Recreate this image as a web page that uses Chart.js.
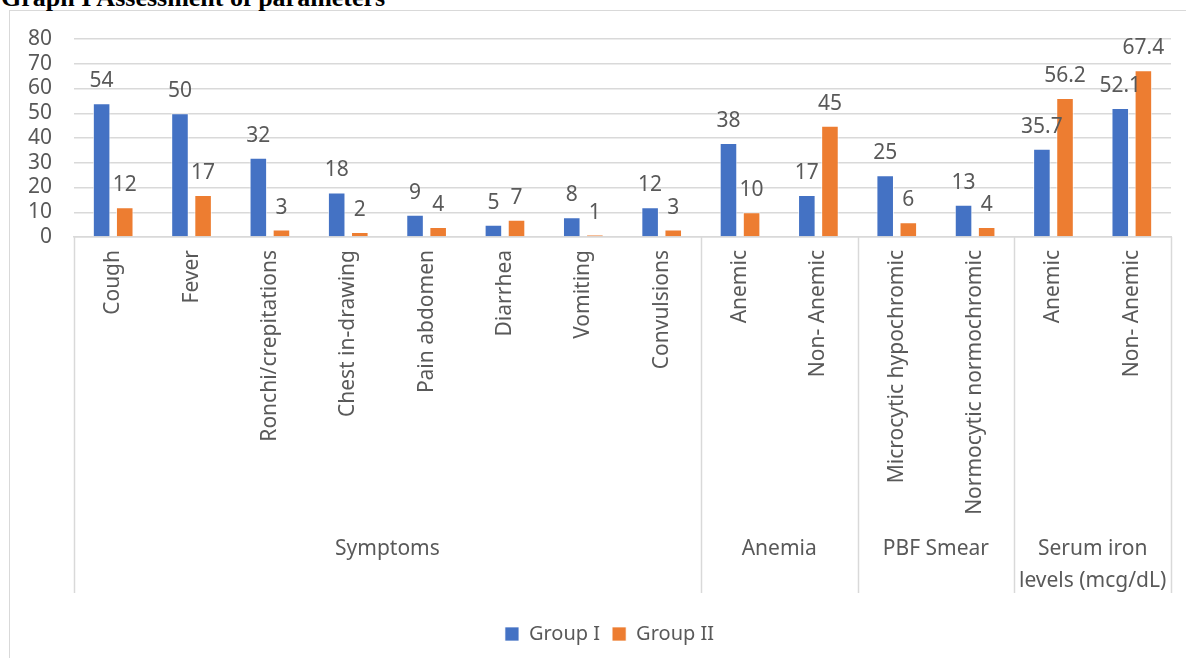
<!DOCTYPE html>
<html>
<head>
<meta charset="utf-8">
<title>Graph I Assessment of parameters</title>
<script src="https://cdn.jsdelivr.net/npm/chart.js@4.4.1/dist/chart.umd.min.js"></script>
<style>
  html, body { margin: 0; padding: 0; background: #ffffff; overflow: hidden; }
  #wrap { position: relative; width: 1186px; height: 658px; overflow: hidden; }
  #frame {
    position: absolute; left: 9px; top: 10px; width: 1300px; height: 800px;
    border: 1.5px solid #d9d9d9; box-sizing: border-box;
  }
  #title {
    position: absolute; left: 1px; top: -15px; margin: 0;
    font-family: "Liberation Serif", "Times New Roman", serif;
    font-weight: bold; font-size: 26px; line-height: 26px; color: #000;
    white-space: nowrap;
  }
  #c { position: absolute; left: 0; top: 0; }
</style>
</head>
<body>
<div id="wrap">
  <div id="frame"></div>
  <div id="title">Graph I Assessment of parameters</div>
  <canvas id="c" width="1186" height="658"></canvas>
</div>
<script>
// Categories along the x axis
const categories = [
  'Cough', 'Fever', 'Ronchi/crepitations', 'Chest in-drawing', 'Pain abdomen',
  'Diarrhea', 'Vomiting', 'Convulsions',
  'Anemic', 'Non- Anemic',
  'Microcytic hypochromic', 'Normocytic normochromic',
  'Anemic', 'Non- Anemic'
];

// Series values
const groupI  = [54, 50, 32, 18, 9, 5, 8, 12, 38, 17, 25, 13, 35.7, 52.1];
const groupII = [12, 17, 3, 2, 4, 7, 1, 3, 10, 45, 6, 4, 56.2, 67.4];

// Outer grouping level: label lines and how many categories each spans
const groupNames  = [['Symptoms'], ['Anemia'], ['PBF Smear'], ['Serum iron', 'levels (mcg/dL)']];
const groupSpans  = [8, 2, 2, 2];

// Value axis ticks
const yTicks = [0, 10, 20, 30, 40, 50, 60, 70, 80];

const TEXT = '#595959';
const LINE = '#d9d9d9';
const FONT = '"Noto Sans", "Open Sans", sans-serif';
const SIZE = 21;

const fmt = v => String(v);

// Value labels above each bar
const valueLabels = {
  id: 'valueLabels',
  afterDatasetsDraw(chart) {
    const ctx = chart.ctx;
    ctx.save();
    ctx.font = SIZE + 'px ' + FONT;
    ctx.fillStyle = TEXT;
    ctx.textAlign = 'center';
    ctx.textBaseline = 'alphabetic';
    chart.data.datasets.forEach((ds, i) => {
      const meta = chart.getDatasetMeta(i);
      meta.data.forEach((bar, j) => {
        ctx.fillText(fmt(ds.data[j]), bar.x, bar.y - 16);
      });
    });
    ctx.restore();
  }
};

// Second level of the category axis: group separators and group names
const groupAxis = {
  id: 'groupAxis',
  afterDraw(chart) {
    const ctx = chart.ctx;
    const x = chart.scales.x;
    const top = chart.chartArea.bottom;
    const bottom = top + 356;
    const step = x.width / categories.length;
    ctx.save();
    ctx.strokeStyle = LINE;
    ctx.lineWidth = 1.5;
    let start = 0;
    const edges = [0];
    groupSpans.forEach(n => { start += n; edges.push(start); });
    edges.forEach(e => {
      const px = Math.round(x.getPixelForValue(e) - step / 2) + 0.5;
      ctx.beginPath();
      ctx.moveTo(px, top);
      ctx.lineTo(px, bottom);
      ctx.stroke();
    });
    ctx.font = SIZE + 'px ' + FONT;
    ctx.fillStyle = TEXT;
    ctx.textAlign = 'center';
    ctx.textBaseline = 'middle';
    groupNames.forEach((lines, g) => {
      const a = x.getPixelForValue(edges[g]) - step / 2;
      const b = x.getPixelForValue(edges[g + 1]) - step / 2;
      const cx = (a + b) / 2;
      lines.forEach((t, k) => ctx.fillText(t, cx, 549 + k * 32));
    });
    ctx.restore();
  }
};

// Centre the legend under the framed chart rather than the whole canvas
const legendShift = {
  id: 'legendShift',
  afterLayout(chart) {
    if (chart.legend) {
      chart.legend.left += 24;
      chart.legend.right += 24;
    }
  }
};

new Chart(document.getElementById('c'), {
  type: 'bar',
  data: {
    labels: categories,
    datasets: [
      { label: 'Group I', data: groupI, backgroundColor: '#4472C4', borderColor: 'rgba(255,255,255,0.7)', borderWidth: 1 },
      { label: 'Group II', data: groupII, backgroundColor: '#ED7D31', borderColor: 'rgba(255,255,255,0.7)', borderWidth: 1 }
    ]
  },
  options: {
    responsive: false,
    animation: false,
    devicePixelRatio: 1,
    categoryPercentage: 0.59,
    barPercentage: 0.76,
    layout: { padding: { top: 39, right: 15, left: 0, bottom: 4 } },
    plugins: {
      title: { display: false },
      tooltip: { enabled: false },
      legend: {
        position: 'bottom',
        labels: {
          font: { family: FONT, size: 20 },
          color: TEXT,
          boxWidth: 14,
          boxHeight: 14,
          padding: 12
        }
      }
    },
    scales: {
      y: {
        min: 0,
        max: 80,
        afterBuildTicks(scale) { scale.ticks = yTicks.map(v => ({ value: v })); },
        afterFit(scale) { scale.width = 74; },
        ticks: { font: { family: FONT, size: SIZE }, color: TEXT, padding: 22, autoSkip: false },
        grid: { color: LINE, lineWidth: 1.5, drawTicks: false },
        border: { display: false }
      },
      x: {
        afterFit(scale) { scale.height = 375; },
        ticks: {
          font: { family: FONT, size: SIZE },
          color: TEXT,
          minRotation: 90,
          maxRotation: 90,
          autoSkip: false,
          padding: 13
        },
        grid: { display: false, drawTicks: false },
        border: { display: true, color: LINE, width: 1.5 }
      }
    }
  },
  plugins: [valueLabels, groupAxis, legendShift]
});
</script>
</body>
</html>
